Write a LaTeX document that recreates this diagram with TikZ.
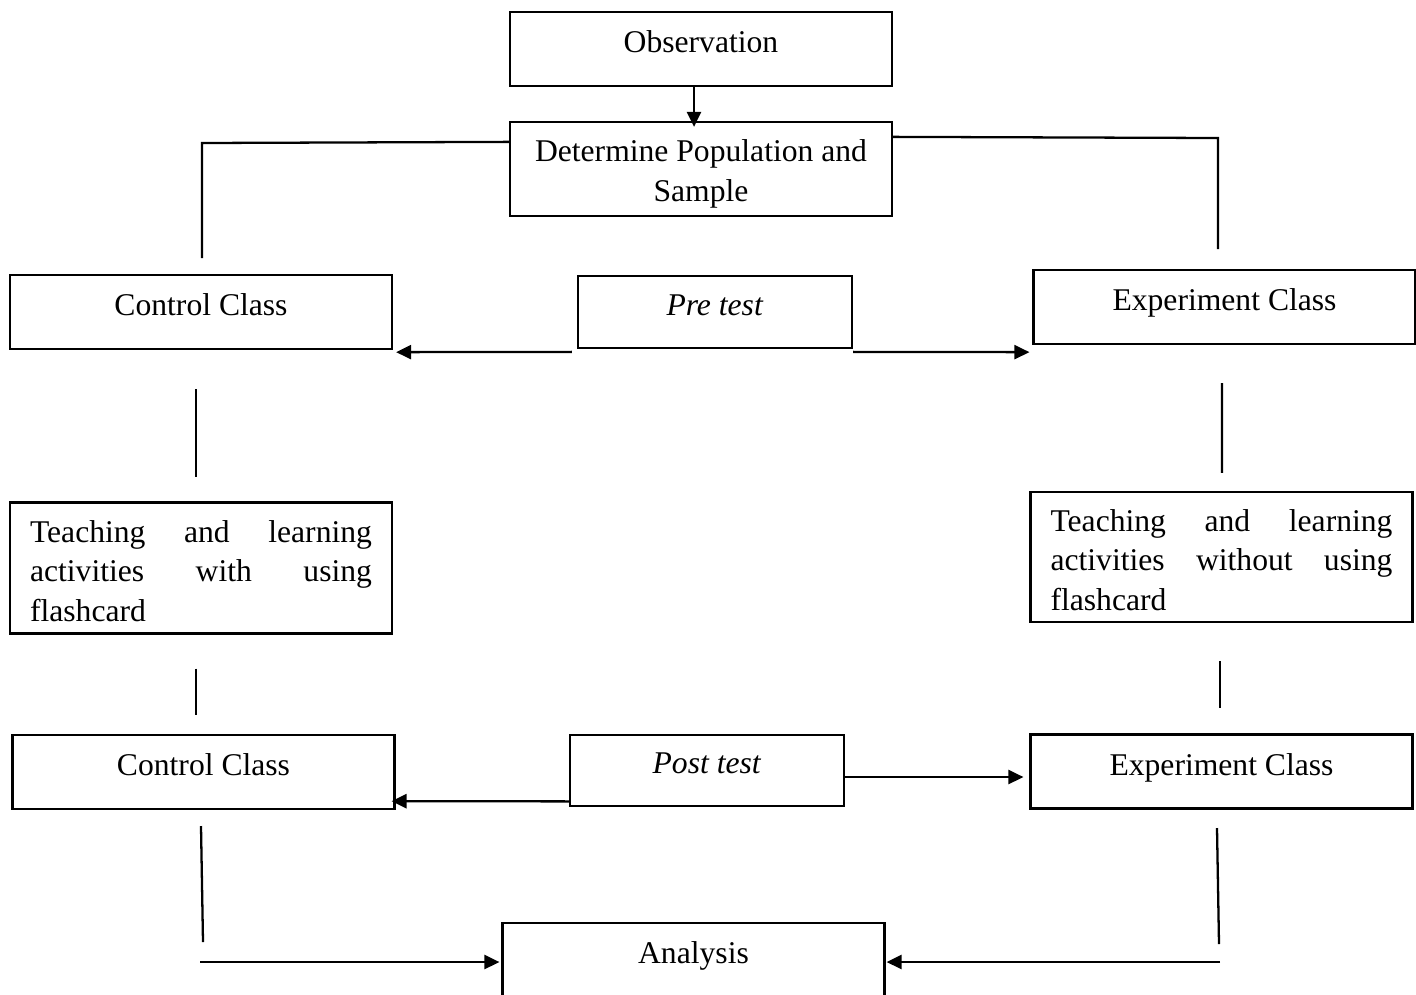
\documentclass[tikz,border=0pt]{standalone}
\usepackage{fontspec}
\setmainfont{Liberation Serif}
\usetikzlibrary{positioning, calc, arrows.meta}
\hyphenpenalty=10000
\exhyphenpenalty=10000

\begin{document}
\begin{tikzpicture}[x=0.02cm, y=-0.02cm, line width=1.3pt, font=\fontsize{18}{22.5}\selectfont]

        % Block definitions
        \tikzstyle{block} = [draw, rectangle, minimum width=7.64cm, minimum height=1.48cm, align=center, text depth=8pt, inner sep=0pt]
        \tikzstyle{testblock} = [block, minimum width=5.48cm, minimum height=1.43cm]
        \tikzstyle{twoline} = [draw, rectangle, minimum width=7.64cm, minimum height=1.88cm, align=center, inner sep=0pt]
        \tikzstyle{textblock} = [draw, rectangle, minimum width=7.64cm, minimum height=2.62cm, text width=6.84cm, align=justify, inner sep=0pt]
        \tikzstyle{arrow} = [->, >={Triangle[length=8.5pt, width=8pt]}]

        % Page
        \clip (0,0) rectangle (1416,994);

        % Blocks
        \node[block] (obs) at (701,49) {Observation};
        \node[twoline] (det) at (701,169) {\rule{0pt}{18pt}Determine Population and\\ Sample};
        \node[block] (ctrlA) at (201,312) {Control Class};
        \node[testblock] (pre) at (715,312) {\textit{Pre test}};
        \node[block] (expA) at (1224.5,307) {Experiment Class};
        \node[textblock] (teachA) at (201,568) {\rule{0pt}{16pt}Teaching and learning activities with using flashcard};
        \node[textblock, minimum height=2.6cm] (teachB) at (1221.5,557) {\rule{0pt}{16pt}Teaching and learning activities without using flashcard};
        \node[block] (ctrlB) at (203.5,772) {Control Class};
        \node[testblock] (post) at (707,770.5) {\textit{Post test}};
        \node[block] (expB) at (1221.5,771.5) {Experiment Class};
        \node[block] (ana) at (693.5,960) {Analysis};

        % Arrows
        \draw[arrow] ($(obs.south)+(-7,0)$) -- ($(det.north)+(-7,6)$);
        \draw ($(det.north west)+(0,21)$) -- (202,143) coordinate (tl) -- (202,258);
        \draw ($(det.north east)+(0,16)$) -- (1218,138) coordinate (tr) -- (1218,249);
        \draw[arrow] ($(pre.south west)+(-5,3)$) -- ($(ctrlA.south east)+(3,2)$);
        \draw[arrow] ($(pre.south east)+(0,3)$) -- ($(expA.south west)+(-3,7)$);

        \draw ($(ctrlA.south)+(-5,39)$) -- ($(teachA.north)+(-5,-24)$);
        \draw ($(teachA.south)+(-5,34)$) -- ($(ctrlB.north)+(-7.5,-19)$);
        \draw ($(expA.south)+(-2.5,38)$) -- ($(teachB.north)+(0.5,-18)$);
        \draw ($(teachB.south)+(-1.5,38)$) -- ($(expB.north)+(-1.5,-25)$);

        \draw[arrow] ($(post.south west)+(0,-6)$) -- ($(ctrlB.south east)+(-4,-9)$);
        \draw[arrow] ($(post.east)+(0,6.5)$) -- ($(expB.west)+(-6,5.5)$);

        \coordinate (bl) at (200,962);
        \coordinate (br) at (1220,962);
        \draw (201,826) -- (203,942);
        \draw (1217,828) -- (1219,944);
        \draw[arrow] (bl) -- ($(ana.west)+(-2,2)$);
        \draw[arrow] (br) -- ($(ana.east)+(1,2)$);

\end{tikzpicture}
\end{document}
